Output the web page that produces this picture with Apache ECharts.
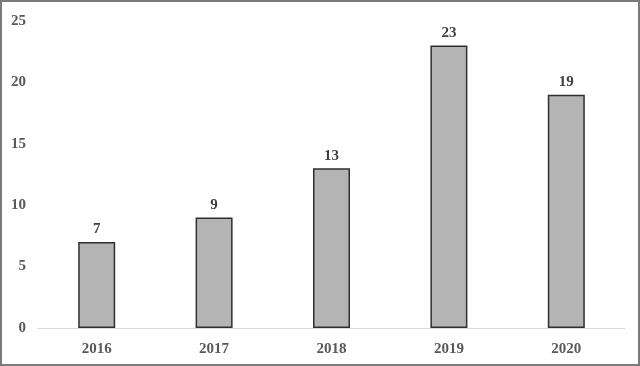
<!DOCTYPE html>
<html><head><meta charset="utf-8">
<script src="https://cdn.jsdelivr.net/npm/echarts@6/dist/echarts.min.js"></script>
<style>html,body{margin:0;padding:0;background:#fff}#c{width:640px;height:366px;box-sizing:border-box;border:2px solid #7a7a7a}</style>
</head><body><div id="c"></div>
<script>
const categories = ['2016','2017','2018','2019','2020'];
const values = [7, 9, 13, 23, 19];
const chart = echarts.init(document.getElementById('c'));
const font = '"Liberation Serif", "Times New Roman", serif';
chart.setOption({
  animation: false,
  grid: {left: 36, right: 13, top: 19, bottom: 36},
  xAxis: {
    type: 'category', data: categories,
    axisLine: {lineStyle: {color: '#d9d9d9', width: 1}},
    axisTick: {show: false},
    axisLabel: {color: '#595959', fontFamily: font, fontWeight: 'bold', fontSize: 15, margin: 14}
  },
  yAxis: {
    type: 'value', min: 0, max: 25, interval: 5,
    splitLine: {show: false},
    axisLine: {show: false}, axisTick: {show: false},
    axisLabel: {color: '#595959', fontFamily: font, fontWeight: 'bold', fontSize: 15, margin: 12}
  },
  series: [{
    type: 'bar', data: values, barWidth: 37,
    itemStyle: {color: '#b4b4b4', borderColor: '#2f2f2f', borderWidth: 1.5},
    label: {show: true, position: 'top', distance: 5, color: '#404040', fontFamily: font, fontWeight: 'bold', fontSize: 15}
  }]
});
</script></body></html>
